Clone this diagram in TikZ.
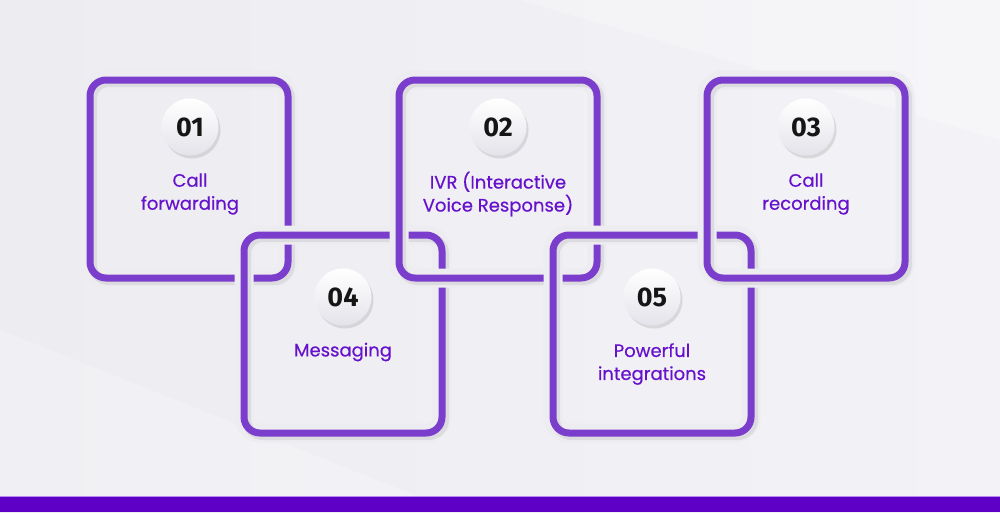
\documentclass[tikz,border=0pt]{standalone}
\usepackage{fontspec}
\setmainfont{Poppins}
\newfontfamily\lblfont{Poppins}[FakeBold=0.5]
\newfontfamily\numfont{Fira Sans}
\usetikzlibrary{shadows}
\definecolor{bgc}{HTML}{EDECF1}
\definecolor{bgl}{HTML}{F3F2F6}
\definecolor{boxc}{HTML}{7A3DCC}
\definecolor{txtc}{HTML}{6612CC}
\definecolor{barc}{HTML}{5E00C6}
\definecolor{barl}{HTML}{B98AF0}
\definecolor{numtxt}{HTML}{151515}
\definecolor{circb}{HTML}{E4E3EA}
\newcommand{\chainbox}[3]{%
  \path node[boxshape] (#1) at (#2,#3) {};
  \draw[halo] (#1.north west) rectangle (#1.south east);
  \draw[strokeshadow] ([xshift=2.5pt,yshift=-2.5pt]#1.north west) rectangle ([xshift=2.5pt,yshift=-2.5pt]#1.south east);
  \draw[stroke] (#1.north west) rectangle (#1.south east);
}
\begin{document}
\begin{tikzpicture}[x=1pt,y=-1pt,
  boxshape/.style={rectangle, minimum width=198pt, minimum height=198pt, inner sep=0pt, outer sep=0pt},
  halo/.style={draw=bgc, line width=19pt, rounded corners=16pt},
  strokeshadow/.style={draw=black, opacity=0.07, line width=9pt, rounded corners=16pt},
  stroke/.style={draw=boxc, line width=7pt, rounded corners=16pt},
  numc/.style={circle, minimum size=57pt, inner sep=0pt, top color=white, bottom color=circb,
    drop shadow={opacity=0.22, shadow xshift=2pt, shadow yshift=-3pt},
    font=\numfont\bfseries\fontsize{27}{27}\selectfont, text=numtxt},
  lbl/.style={align=center, text=txtc, font=\lblfont\fontsize{18}{23}\selectfont, inner sep=0pt}
]
\useasboundingbox (0,0) rectangle (1000,512);
\shade[left color=bgc, right color=bgl] (0,0) rectangle (1000,512);
\fill[white, opacity=0.25] (520,0) -- (1000,0) -- (1000,140) -- cycle;
\fill[white, opacity=0.2] (0,330) -- (0,497) -- (420,497) -- cycle;
% boxes in stacking order
\chainbox{s1}{189}{179}
\chainbox{s4}{343}{334}
\chainbox{s2}{498}{179}
\chainbox{s5}{652}{334}
\chainbox{s3}{806}{179}
% number circles
\node[numc] (c1) at (190,127) {01};
\node[numc] (c2) at (498,127) {02};
\node[numc] (c3) at (806,127) {03};
\node[numc] (c4) at (343,297) {04};
\node[numc] (c5) at (652,297) {05};
% labels
\node[lbl] (t1) at (190,194) {Call\\forwarding};
\node[lbl] (t2) at (498,194) {IVR (Interactive\\Voice Response)};
\node[lbl] (t3) at (806,194) {Call\\recording};
\node[lbl] (t4) at (343,352) {Messaging};
\node[lbl] (t5) at (652,364) {Powerful\\integrations};
% bottom bar
\fill[barl] (0,495.5) rectangle (1000,497.5);
\fill[barc] (0,497) rectangle (1000,512);
\end{tikzpicture}
\end{document}
